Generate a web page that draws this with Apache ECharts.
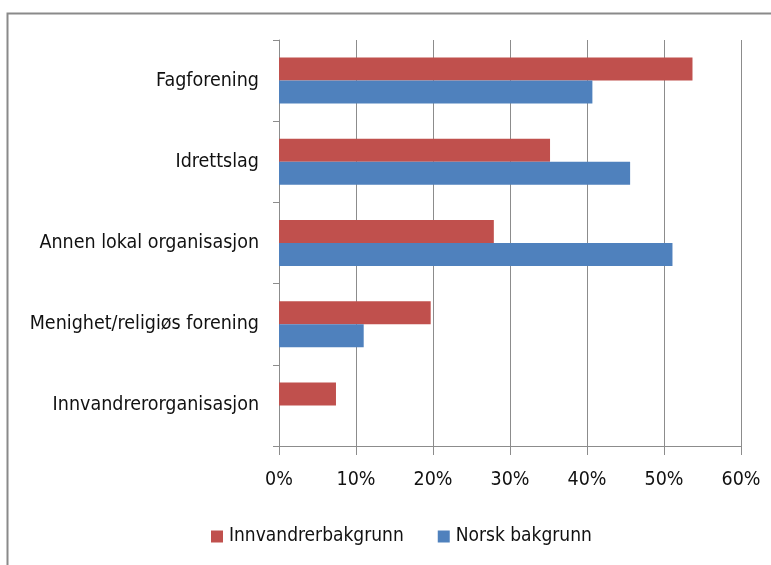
<!DOCTYPE html>
<html>
<head>
<meta charset="utf-8">
<script src="https://cdn.jsdelivr.net/npm/echarts@6/dist/echarts.min.js"></script>
<style>
html,body{margin:0;padding:0;background:#fff;}
#c{width:771px;height:565px;}
</style>
</head>
<body>
<div id="c"></div>
<script>
const categories = ['Fagforening', 'Idrettslag', 'Annen lokal organisasjon', 'Menighet/religiøs forening', 'Innvandrerorganisasjon'];
const seriesNames = ['Innvandrerbakgrunn', 'Norsk bakgrunn'];
const innvandrerValues = [53.7, 35.2, 27.9, 19.7, 7.4];
const norskValues = [40.7, 45.6, 51.1, 11.0, 0];
const tickLabels = ['0%', '10%', '20%', '30%', '40%', '50%', '60%'];

const FONT = "'Liberation Sans Narrow', 'DejaVu Sans Condensed', 'Open Sans', sans-serif";
const chart = echarts.init(document.getElementById('c'), null, {renderer: 'canvas'});
chart.setOption({
  animation: false,
  backgroundColor: '#fff',
  graphic: [{
    type: 'rect', shape: {x: 7.5, y: 13.5, width: 800, height: 600},
    style: {fill: 'none', stroke: '#8a8a8a', lineWidth: 2}, silent: true
  }],
  grid: {left: 279, right: 30, top: 40, bottom: 119, containLabel: false},
  legend: {
    top: 522, left: 206, itemWidth: 12, itemHeight: 12, itemGap: 34,
    icon: 'rect',
    textStyle: {fontFamily: FONT, fontSize: 19, color: '#111', padding: [0, 0, 0, 1]},
    data: seriesNames
  },
  xAxis: {
    type: 'value', min: 0, max: 60, interval: 10,
    axisLabel: {
      fontFamily: FONT, fontSize: 19.5, color: '#111', margin: 24,
      formatter: function (v) { return tickLabels[Math.round(v / 10)]; }
    },
    axisLine: {show: true, lineStyle: {color: '#8c8c8c', width: 1}},
    axisTick: {show: true, length: 9, lineStyle: {color: '#8c8c8c'}},
    splitLine: {show: true, lineStyle: {color: '#8c8c8c', width: 1}}
  },
  yAxis: {
    type: 'category', data: categories, inverse: true,
    axisLabel: {fontFamily: FONT, fontSize: 19.5, color: '#111', margin: 20},
    axisLine: {show: true, lineStyle: {color: '#8c8c8c'}},
    axisTick: {show: true, length: 6, lineStyle: {color: '#8c8c8c'}}
  },
  series: [
    {name: seriesNames[0], type: 'bar', data: innvandrerValues, barWidth: 23, barGap: '0%',
     itemStyle: {color: '#C0504D'}},
    {name: seriesNames[1], type: 'bar', data: norskValues, barWidth: 23, barGap: '0%',
     itemStyle: {color: '#4F81BD'}}
  ]
});
</script>
</body>
</html>
